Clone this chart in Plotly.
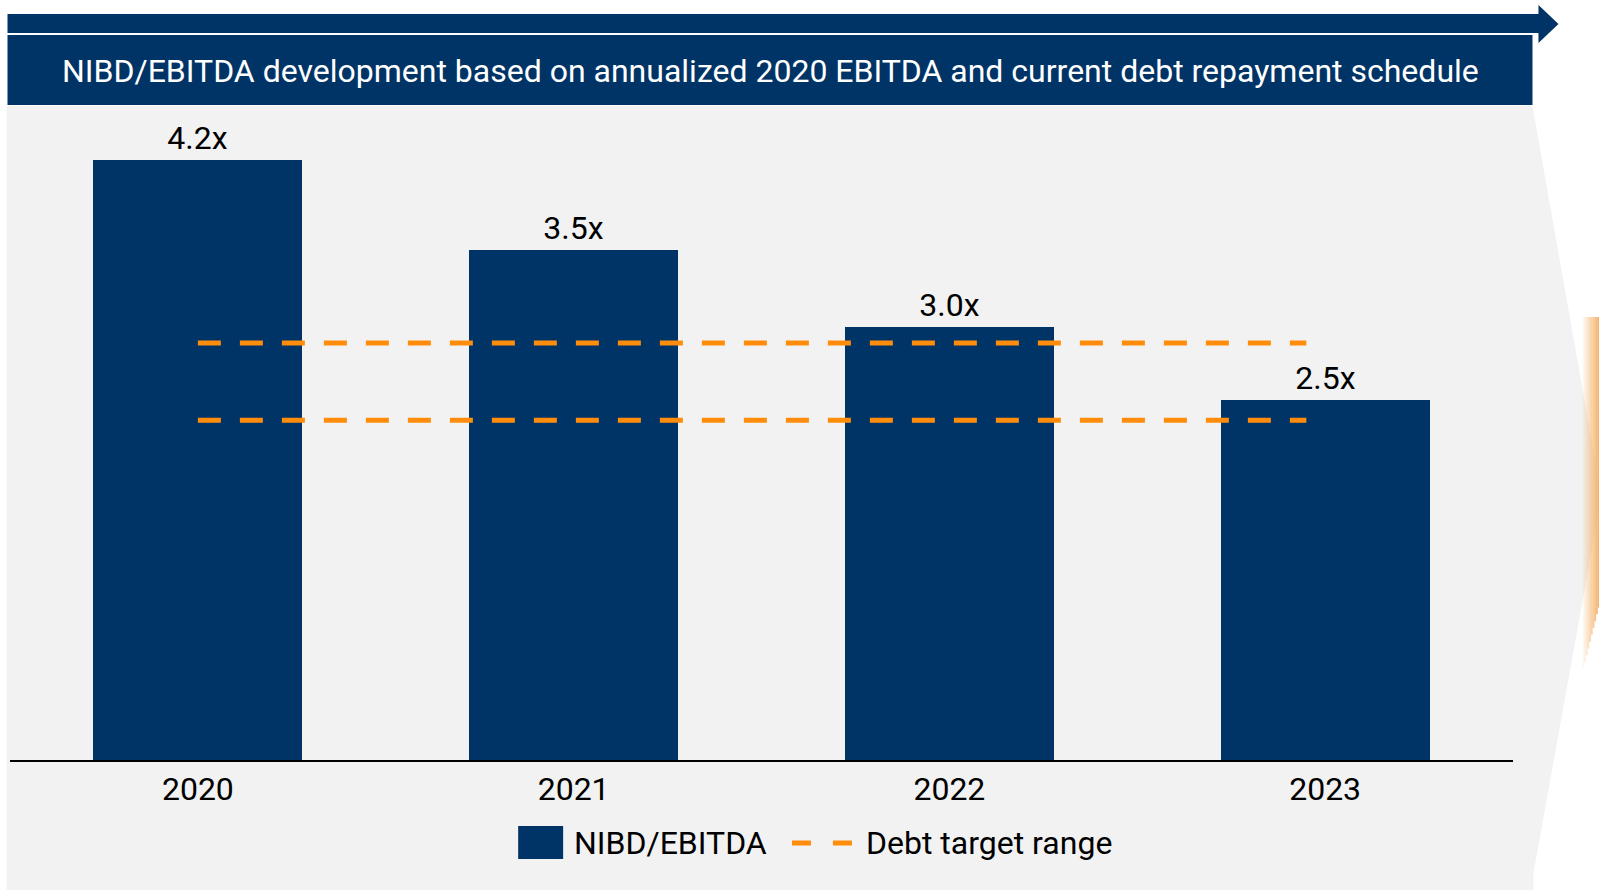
"""NIBD/EBITDA development chart with debt target range."""
import plotly.graph_objects as go

# ---- data ----
years = [2020, 2021, 2022, 2023]
nibd_ebitda = [4.2, 3.57, 3.03, 2.52]
bar_labels = ['4.2x', '3.5x', '3.0x', '2.5x']
target_low = 2.38
target_high = 2.92
target_span = [2020, 2022.95]

title_text = 'NIBD/EBITDA development based on annualized 2020 EBITDA and current debt repayment schedule'

NAVY = '#003466'
ORANGE = '#FF8C0A'
GREY = '#F2F2F2'
FONT = 'Roboto'

W, H = 1599, 890
# plot area in screen pixels
PL, PR, PT, PB = 9.5, 1513.5, 107, 760


def px_x(x):
    return (x - PL) / (PR - PL)


def px_y(y):
    return (PB - y) / (PB - PT)


def path(points):
    return 'M ' + ' L '.join(f'{px_x(x):.5f},{px_y(y):.5f}' for x, y in points) + ' Z'


fig = go.Figure()

fig.add_trace(go.Bar(
    x=years, y=nibd_ebitda, width=0.556,
    marker=dict(color=NAVY, line=dict(width=0)),
    text=bar_labels, textposition='outside', cliponaxis=False,
    textfont=dict(family=FONT, size=32, color='black'),
    name='NIBD/EBITDA', showlegend=False,
))

for lvl in (target_high, target_low):
    fig.add_trace(go.Scatter(
        x=target_span, y=[lvl, lvl], mode='lines',
        line=dict(color=ORANGE, width=5, dash='23px,19px'),
        name='Debt target range', showlegend=False, hoverinfo='skip',
    ))

shapes = []
# grey panel with chevron edge
shapes.append(dict(type='path', xref='paper', yref='paper', layer='below',
                   path=path([(6, 106), (1533, 106), (1602, 496), (1534, 873), (1534, 900), (6, 900)]),
                   fillcolor=GREY, line=dict(width=0)))
# orange glow at right edge
n = 10
for i in range(n):
    x0 = 1583 + i * 1.7
    x1 = x0 + 1.8
    yb = 873 - (x1 - 1534) / 0.249
    shapes.append(dict(type='path', xref='paper', yref='paper', layer='below',
                       path=path([(x0, 317), (x1, 317), (x1, yb), (x0, yb)]),
                       fillcolor='#F4AC5E', opacity=(i + 1) / n * 0.9, line=dict(width=0)))
# top arrow
shapes.append(dict(type='path', xref='paper', yref='paper',
                   path=path([(7, 14), (1539, 14), (1539, 5), (1559, 24), (1539, 43), (1539, 33), (7, 33)]),
                   fillcolor=NAVY, line=dict(width=0)))
# title banner
shapes.append(dict(type='rect', xref='paper', yref='paper',
                   x0=px_x(7), x1=px_x(1533), y0=px_y(35), y1=px_y(105),
                   fillcolor=NAVY, line=dict(width=0)))
# legend: bar swatch
shapes.append(dict(type='rect', xref='paper', yref='paper',
                   x0=px_x(518), x1=px_x(563), y0=px_y(826), y1=px_y(859),
                   fillcolor=NAVY, line=dict(width=0)))
# legend: dashed line swatch
for a, b in ((792, 811), (833, 852)):
    shapes.append(dict(type='line', xref='paper', yref='paper',
                       x0=px_x(a), x1=px_x(b), y0=px_y(843), y1=px_y(843),
                       line=dict(color=ORANGE, width=5)))

annotations = [
    dict(text=title_text, xref='paper', yref='paper', x=px_x(771), y=px_y(70.5),
         showarrow=False, xanchor='center', yanchor='middle',
         font=dict(family=FONT, size=32, color='white')),
    dict(text='NIBD/EBITDA', xref='paper', yref='paper', x=px_x(572), y=px_y(843),
         showarrow=False, xanchor='left', yanchor='middle',
         font=dict(family=FONT, size=32, color='black')),
    dict(text='Debt target range', xref='paper', yref='paper', x=px_x(864), y=px_y(843),
         showarrow=False, xanchor='left', yanchor='middle',
         font=dict(family=FONT, size=32, color='black')),
]

fig.update_layout(
    width=W, height=H,
    margin=dict(l=PL, r=W - PR, t=PT, b=H - PB, pad=0),
    paper_bgcolor='white', plot_bgcolor='rgba(0,0,0,0)',
    shapes=shapes, annotations=annotations,
    bargap=0, showlegend=False,
    font=dict(family=FONT, color='black'),
)
fig.update_xaxes(range=[2019.5, 2023.5], tickvals=years, ticktext=[str(y) for y in years],
                 showgrid=False, zeroline=False, showline=True, linecolor='black', linewidth=2,
                 ticks='', tickfont=dict(family=FONT, size=32, color='black'), fixedrange=True)
fig.update_yaxes(range=[0, (PB - PT) / 142.8], visible=False, showgrid=False, zeroline=False,
                 fixedrange=True)

# drop the default page margin so the figure sits at the window origin
fig.write_html("out.html", config={'displayModeBar': False},
               post_script="document.body.style.margin = '0';")
